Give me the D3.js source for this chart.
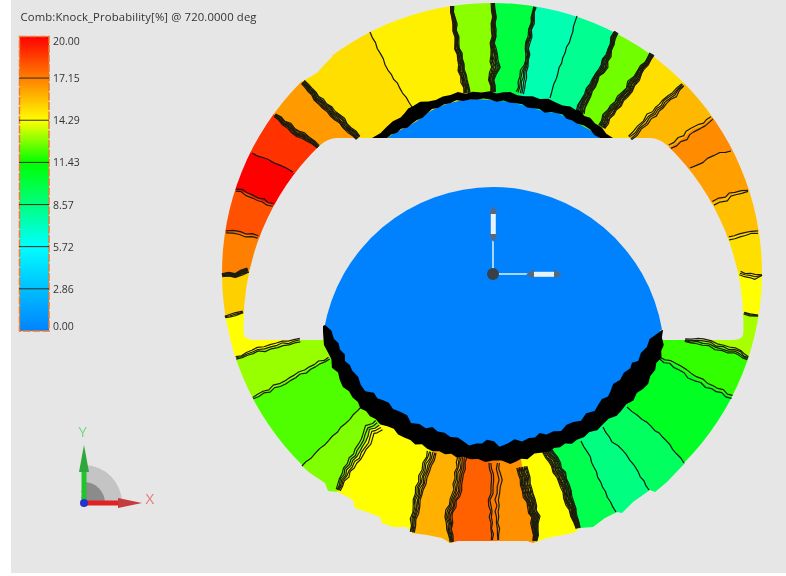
<!DOCTYPE html>
<html><head><meta charset="utf-8">
<script src="https://cdn.jsdelivr.net/npm/d3@7"></script>
<style>html,body{margin:0;padding:0;background:#fff;overflow:hidden}svg{display:block}text{font-family:"Open Sans","Noto Sans",sans-serif}</style>
</head><body><div id="chart"></div>
<script>
const titleText = "Comb:Knock_Probability[%] @ 720.0000 deg";
const legendLabels = ["20.00","17.15","14.29","11.43","8.57","5.72","2.86","0.00"];
const legendValues = [20,17.15,14.29,11.43,8.57,5.72,2.86,0];
const legendColors = ["#ff0000","#ff8000","#ffff00","#00ff00","#00ff80","#00ffff","#00bfff","#0082ff"];

// contour polylines, outer end to inner end: [x, y, bundle spread]
const b00=[[493,3,3],[494,17,4],[493,43,4],[495,67,9],[492,80,5],[493,92,4]];
const b01=[[535,7,2],[532,23,3],[528,43,4],[527,60,3],[523,77,7],[520,93,7]];
const b02=[[577,16,0],[571,37,0],[563,58,0],[556,78,0],[550,98,0]];
const b03=[[616,32,4],[610,50,4],[604,66,7],[598,75,5],[587,95,7],[580,113,8]];
const b04=[[652,54,4],[640,72,5],[632,84,8],[625,95,7],[610,112,8],[602,127,7]];
const b05=[[683,85,3],[674,94,5],[665,102,5],[650,117,6],[640,128,5],[630,138,5]];
const b06=[[712,118,3],[700,127,4],[692,130,5],[685,137,5],[670,147,4]];
const b07=[[731,151,0],[720,153,0],[707,158,0],[703,163,0],[690,168,0]];
const b08=[[748,191,1.5],[735,193,3],[726,198,4],[713,203,4]];
const b09=[[758,232,2],[745,234,3],[729,238,3]];
const b10=[[762,275,1],[755,277,5],[740,273,3]];
const b11=[[758,316,1],[750,314,2],[744,313,2]];
const b12=[[748,358,3],[740,353,5],[723,348,6],[703,342,6],[685,340,3]];
const b13=[[732,397,3],[707,385,4],[690,375,5],[675,365,4],[660,358,2]];
const b14=[[684,463,0],[673,449,0],[663,437,0],[647,423,0],[627,407,0]];
const b15=[[649,490,0],[638,472,0],[630,460,0],[623,450,0],[612,442,0],[603,427,0]];
const b16=[[616,512,0],[605,492,0],[598,477,0],[590,457,0],[581,441,0]];
const b17=[[578,528,4],[570,503,8],[563,480,9],[553,460,10],[547,450,9]];
const b18=[[535,541,4],[535,517,8],[527,490,10],[522,467,10]];
const b19=[[498,540,1],[497,500,3],[500,480,3],[498,463,2]];
const b20=[[492,540,1],[490,500,2],[493,480,2],[490,463,2]];
const b21=[[452,542,3],[448,517,7],[454,500,7],[457,490,8],[462,457,9]];
const b22=[[412,532,4],[417,500,7],[423,477,8],[432,452,9]];
const b23=[[338,490,4],[347,470,8],[363,447,10],[370,430,11],[379,425,11]];
const b24=[[302,466,0],[320,449,0],[337,432,0],[362,406,0]];
const b25=[[253,398,2],[285,382,3],[310,368,3],[329,358,2]];
const b26=[[236,358,2],[258,350,4],[277,345,5],[300,340,3]];
const b27=[[225,317,2],[235,314,3],[243,312,2]];
const b28=[[222,275,3],[235,275,4],[248,270,5]];
const b29=[[226,232,2],[240,233,3],[258,237,3]];
const b30=[[236,190,2],[247,193,3],[253,197,3],[273,205,3]];
const b31=[[252,153,0],[268,160,0],[280,165,0],[293,172,0]];
const b32=[[275,115,3],[293,130,6],[308,139,5],[318,147,3]];
const b33=[[303,82,4],[317,98,6],[337,117,7],[358,138,5]];
const b34=[[370,32,0],[388,70,0],[400,88,0],[412,107,0]];
const b35=[[452,6,3],[457,43,4],[462,70,6],[467,93,6]];
const contours=[b00,b01,b02,b03,b04,b05,b06,b07,b08,b09,b10,b11,b12,b13,b14,b15,b16,b17,b18,b19,b20,b21,b22,b23,b24,b25,b26,b27,b28,b29,b30,b31,b32,b33,b34,b35];
const lineCounts=[8,5,1,9,9,4,2,1,2,2,3,3,4,2,1,1,1,11,11,2,2,6,6,5,1,2,3,3,8,2,2,1,7,8,1,8];
// band value clockwise, after each contour
const bandValues=[10,7.5,8.2,12.7,15,15.9,16.9,16.43,15.7,15,14.29,13.3,11.97,10.7,9.3,8.57,9.64,14.29,16.8,17.3,17.86,16.07,14.29,12.86,12.33,13.13,14.29,15.35,17.15,18.2,20,18.93,16.56,15,14.63,12.97];

const capOuter=[[372,138],[380,132],[387,127],[400,117],[413,105],[428,101],[443,97],[458,93],[473,92],[490,92],[510,93],[525,96],[540,98],[556,102],[570,107],[580,112],[590,118],[601,128],[613,138]];
const capInner=[[600,138],[590,130],[577,123],[567,118],[557,113],[545,112],[533,108],[522,105],[510,102],[490,100],[477,99],[463,100],[450,103],[438,107],[427,113],[417,121],[407,127],[396,132],[387,138]];
const domeOuter=[[323,326],[322,337],[328,352],[333,367],[344,386],[357,403],[375,420],[393,430],[410,441],[427,448],[445,454],[463,457],[478,460],[493,461],[510,463],[527,458],[543,452],[560,447],[577,440],[590,433],[603,425],[616,415],[627,405],[638,394],[647,383],[655,370],[660,357],[663,345],[663,330]];
const domeInner=[[662,330],[651,340],[641,353],[637,360],[630,368],[619,379],[610,391],[603,400],[594,410],[580,419],[561,430],[546,433],[529,439],[515,441],[500,445],[487,440],[476,445],[463,442],[451,436],[438,430],[426,428],[412,422],[400,411],[388,404],[373,394],[360,385],[353,370],[343,355],[335,338],[325,325]];
const bottomEdge=[[302,466],[310,473],[325,483],[328,491],[338,492],[353,500],[355,508],[367,512],[380,517],[382,523],[393,527],[407,527],[412,533],[427,535],[442,538],[450,543],[458,541],[527,541],[533,543],[547,538],[573,533],[580,528],[593,527],[605,518],[617,512],[622,513],[633,502],[650,490],[655,492],[667,482],[685,463]];
const topNotch=[[303,81],[317,73],[324,65],[333,56],[320,50],[296,70]];
const wiggle=[0.5,-0.7,0.9,-0.3,-0.9,0.7,0.2,-0.6,0.8,-1,0.4,0.9,-0.5,0.1,-0.8,1,-0.2];

const W=786,H=576;
const x=d3.scaleLinear().domain([0,786]).range([0,W]);
const y=d3.scaleLinear().domain([0,576]).range([0,H]);
const rScale=d3.scaleLinear().domain([0,270]).range([0,270]);
const cx=492,cy=273;
const color=d3.scaleLinear().domain(legendValues.slice().reverse()).range(legendColors.slice().reverse()).clamp(true);
const legendY=d3.scaleLinear().domain([0,20]).range([331,36]);
const line=d3.line().x(d=>x(d[0])).y(d=>y(d[1]));
const svg=d3.select("#chart").append("svg").attr("width",W).attr("height",H);
const defs=svg.append("defs");
defs.append("filter").attr("id","soft").attr("x","-5%").attr("y","-5%").attr("width","110%").attr("height","110%").append("feGaussianBlur").attr("stdDeviation",0.6);
defs.append("filter").attr("id","soft2").attr("x","-5%").attr("y","-20%").attr("width","110%").attr("height","140%").append("feGaussianBlur").attr("stdDeviation",0.35);

svg.append("rect").attr("x",11).attr("y",0).attr("width",W-11).attr("height",573).attr("fill","#e6e6e6");

// ring silhouette with slot
const p=d3.path();
const a0=Math.atan2(463-cy,685-cx), a1=Math.atan2(466-cy,302-cx);
const R=rScale(270);
p.moveTo(685,463);
p.arc(cx,cy,R,a0,a1,true);
bottomEdge.forEach(d=>p.lineTo(x(d[0]),y(d[1])));
p.closePath();
const sx=493.5,sy=325,sr=250;
const aT=Math.atan2(138-sy,Math.sqrt(sr*sr-(138-sy)*(138-sy)))+0.045, aB=Math.atan2(7,250);
p.moveTo(337,138);p.lineTo(650,138);
p.quadraticCurveTo(659,138,sx+sr*Math.cos(aT),sy+sr*Math.sin(aT));
p.arc(sx,sy,sr,aT,aB,false);
p.quadraticCurveTo(743.5,340,733,340);
p.lineTo(254,340);
p.quadraticCurveTo(243.5,340,sx-sr*Math.cos(aB),sy+sr*Math.sin(aB));
p.arc(sx,sy,sr,Math.PI-aB,Math.PI-aT,false);
p.quadraticCurveTo(328,138,337,138);
p.closePath();
defs.append("clipPath").attr("id","ring").append("path").attr("d",p.toString()).attr("clip-rule","evenodd");

const push=(d,f)=>[cx+(d[0]-cx)*f,cy+(d[1]-cy)*f];
const scene=svg.append("g").attr("filter","url(#soft)");
const bands=scene.append("g").attr("clip-path","url(#ring)");
bands.selectAll("path").data(bandValues).join("path")
  .attr("d",(v,i)=>{
    const A=contours[i],B=contours[(i+1)%contours.length];
    const pts=[push(A[0],1.2),...A,push(A[A.length-1],0.85),push(B[B.length-1],0.85),...B.slice().reverse(),push(B[0],1.2)];
    return line(pts)+"Z";
  })
  .attr("fill",v=>color(v)).attr("stroke",v=>color(v)).attr("stroke-width",0.5);
scene.append("path").attr("d",line(topNotch)+"Z").attr("fill","#e6e6e6");

// blue dome and cap
const dome=d3.path();
const domeR=171.5,domeY=358.5;
const da=Math.asin((330-domeY)/domeR);
dome.arc(493,domeY,domeR,Math.PI-da,da,false);
const la=Math.atan2(330-cy,662-cx);
dome.arc(cx,cy,178,la,Math.PI-la,false);
dome.closePath();
scene.append("path").attr("d",dome.toString()).attr("fill",color(0));
scene.append("path").attr("d",line(capInner)+"Z").attr("fill",color(0));

// rough contour edge: adds the small stair steps of the solver mesh along a traced polyline
function rough(pts,step,amp,phase){
  const out=[];let n=phase;
  pts.forEach((d,i)=>{
    if(i===pts.length-1){out.push(d);return;}
    const e=pts[i+1],dx=e[0]-d[0],dy=e[1]-d[1],L=Math.hypot(dx,dy)||1,m=Math.max(1,Math.round(L/step));
    for(let j=0;j<m;j++){
      const t=j/m,w=(i===0&&j===0)?0:wiggle[n++%wiggle.length]*amp;
      out.push([d[0]+dx*t-dy/L*w,d[1]+dy*t+dx/L*w,(d[2]||0)+((e[2]||0)-(d[2]||0))*t]);
    }
  });
  return out;
}

// contour bundles
const lines=[];
contours.forEach((c,ci)=>{
  const n=lineCounts[ci];
  const base=rough(c,6,n>1?0.9:0.6,ci*5);
  d3.range(n).forEach(k=>{
    const pts=base.map((d,i)=>{
      const prev=base[Math.max(0,i-1)],next=base[Math.min(base.length-1,i+1)];
      const dx=next[0]-prev[0],dy=next[1]-prev[1],L=Math.hypot(dx,dy)||1;
      const off=(n>1?(k/(n-1)-0.5)*d[2]:0)+(n>1?wiggle[(i+k*4+ci)%wiggle.length]*0.4:0);
      return [d[0]-dy/L*off,d[1]+dx/L*off];
    });
    lines.push({pts,n});
  });
});
scene.append("g").selectAll("path").data(lines).join("path")
  .attr("d",d=>line(d.pts)).attr("fill","none").attr("stroke",d=>d.n>1?"#1c1c0c":"#151515").attr("stroke-width",d=>d.n>=7?1.2:1.2).attr("stroke-linejoin","round");

// heavy black contour stacks
const edge=(o,i,a,b,ph)=>line([...rough(o,7,a,ph),...rough(i,7,b,ph+7)])+"Z";
scene.append("path").attr("d",edge(capOuter,capInner,1.2,1.2,2)).attr("fill","#050505");
scene.append("path").attr("d",edge(domeOuter,domeInner,1.6,2,3)).attr("fill","#050505");

// centre axes
const axes=svg.append("g").attr("filter","url(#soft2)");
axes.append("line").attr("x1",493).attr("y1",274).attr("x2",493).attr("y2",240).attr("stroke","#a9d6ff").attr("stroke-width",2);
axes.append("line").attr("x1",493).attr("y1",274).attr("x2",530).attr("y2",274).attr("stroke","#a9d6ff").attr("stroke-width",2);
axes.append("rect").attr("x",490.8).attr("y",213).attr("width",5).attr("height",23).attr("fill","#e8f2fa");
axes.append("rect").attr("x",532).attr("y",271.8).attr("width",24).attr("height",5).attr("fill","#e8f2fa");
axes.append("path").attr("d","M493.2 206l4.5 8h-9zM493.2 242l4.5 -8h-9z").attr("fill","#566a7c");
axes.append("path").attr("d","M562 274.2l-8 -4.5v9zM526 274.2l8 -4.5v9z").attr("fill","#566a7c");
axes.append("circle").attr("cx",493).attr("cy",274).attr("r",6).attr("fill","#3a3f47");

// legend
const grad=defs.append("linearGradient").attr("id","lg").attr("x1",0).attr("x2",0).attr("y1",0).attr("y2",1);
legendValues.forEach((v,i)=>grad.append("stop").attr("offset",(legendY(v)-36)/295).attr("stop-color",legendColors[i]));
const leg=svg.append("g").attr("filter","url(#soft2)");
leg.append("rect").attr("x",19.5).attr("y",36.5).attr("width",29.5).attr("height",294.5).attr("fill","url(#lg)").attr("stroke","#ec7a2c").attr("stroke-width",1.5).attr("stroke-dasharray","8 1.5");
leg.selectAll("line.t").data(legendValues.slice(1,7)).join("line").attr("class","t")
  .attr("x1",19).attr("x2",49).attr("y1",d=>legendY(d)).attr("y2",d=>legendY(d)).attr("stroke","#2a2a20").attr("stroke-width",1);
const txt=svg.append("g").attr("filter","url(#soft2)");
txt.selectAll("text").data(legendLabels).join("text")
  .attr("x",53).attr("y",(d,i)=>legendY(legendValues[i])+(i===0?9:i===7?-1:4))
  .attr("font-size",10.5).attr("fill","#333").text(d=>d);
txt.append("text").attr("x",20.5).attr("y",21).attr("font-size",11.3).attr("fill","#333").attr("textLength",236).attr("lengthAdjust","spacing").text(titleText);

// triad
const tr=svg.append("g").attr("filter","url(#soft2)");
const big=d3.arc()({innerRadius:0,outerRadius:38,startAngle:0,endAngle:Math.PI/2});
const small=d3.arc()({innerRadius:0,outerRadius:21,startAngle:0,endAngle:Math.PI/2});
tr.append("path").attr("d",big).attr("transform","translate(84,503)").attr("fill","#c4c4c4");
tr.append("path").attr("d",small).attr("transform","translate(84,503)").attr("fill","#8b8b8b");
tr.append("rect").attr("x",81.5).attr("y",465).attr("width",5).attr("height",38).attr("fill","#22c32e");
tr.append("path").attr("d","M84 445l5 27h-10z").attr("fill","#2fa83a");
tr.append("rect").attr("x",84).attr("y",500.5).attr("width",36).attr("height",5).attr("fill","#e02020");
tr.append("path").attr("d","M142 503l-24 -5v10z").attr("fill","#c63a3a");
tr.append("circle").attr("cx",84).attr("cy",503).attr("r",4).attr("fill","#2832c8");
txt.append("text").attr("x",78.5).attr("y",437).attr("font-size",15).attr("fill","#6fdc86").text("Y");
txt.append("text").attr("x",145.5).attr("y",504).attr("font-size",15).attr("fill","#e77a7a").text("X");
txt.append("text").attr("x",81).attr("y",498).attr("font-size",9).attr("fill","#3040c0").text("Z");
</script></body></html>
